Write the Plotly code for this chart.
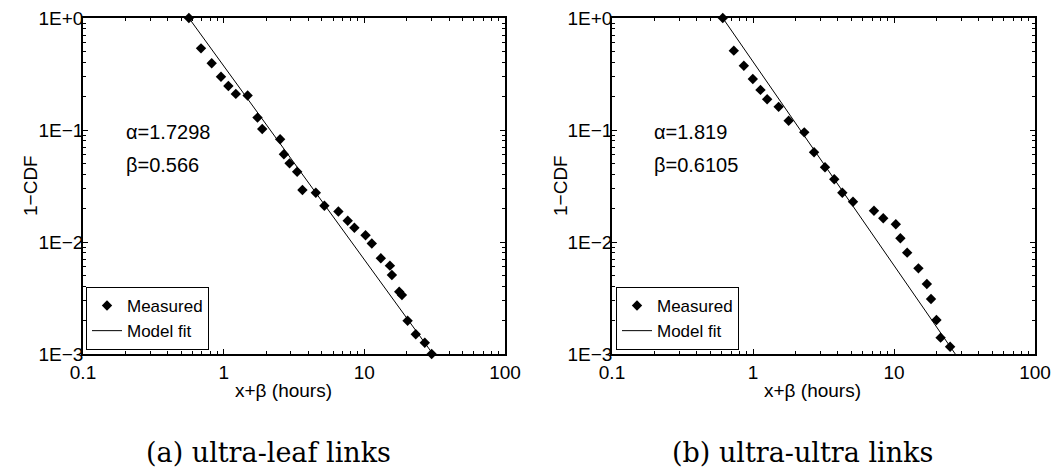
import plotly.graph_objects as go

# ---------------- data ----------------
alpha_a = 1.7298
beta_a = 0.566
meas_x_a = [0.566, 0.69, 0.822, 0.957, 1.08, 1.22, 1.48, 1.74, 1.88, 2.52, 2.68, 2.94, 3.33,
            3.63, 4.52, 5.2, 6.54, 7.62, 8.5, 10.2, 11.3, 13.1, 15.2, 15.7, 17.7, 18.5,
            20.3, 23.2, 26.9, 30.1]
meas_y_a = [1.0, 0.536, 0.394, 0.299, 0.247, 0.21, 0.203, 0.129, 0.102, 0.0826, 0.0607, 0.0504, 0.0424,
            0.0291, 0.0275, 0.0211, 0.0187, 0.0155, 0.0134, 0.0115, 0.0097, 0.00715, 0.00615, 0.00507,
            0.0036, 0.00336, 0.00198, 0.0015, 0.00126, 0.001]
fit_x_a = [0.566, 30.7]
fit_y_a = [1.0, 0.001]

alpha_b = 1.819
beta_b = 0.6105
meas_x_b = [0.6105, 0.731, 0.861, 0.997, 1.13, 1.26, 1.52, 1.79, 2.31, 2.71, 3.24, 3.77,
            4.30, 5.12, 7.21, 8.39, 10.3, 11.1, 12.4, 14.9, 17.1, 18.3, 20.0, 21.4, 25.0]
meas_y_b = [1.0, 0.511, 0.375, 0.285, 0.228, 0.188, 0.161, 0.121, 0.0953, 0.0632, 0.0465, 0.0363,
            0.0275, 0.0229, 0.019, 0.0163, 0.0144, 0.0108, 0.00803, 0.00582, 0.00422, 0.0031,
            0.00201, 0.0014, 0.00116]
fit_x_b = [0.6105, 27.2]
fit_y_b = [1.0, 0.001]

x_tickvals = [0.1, 1, 10, 100]
x_ticktext = ["0.1", "1", "10", "100"]
y_tickvals = [1, 0.1, 0.01, 0.001]
y_ticktext = ["1E+0", "1E\u22121", "1E\u22122", "1E\u22123"]

captions = ["(a) ultra-leaf links", "(b) ultra-ultra links"]
x_title = "x+\u03b2 (hours)"
y_title = "1\u2212CDF"

# minor tick positions (2..9 in each decade)
x_minor = [m * 10.0 ** e for e in (-1, 0, 1) for m in range(2, 10)]
y_minor = [m * 10.0 ** e for e in (-3, -2, -1) for m in range(2, 10)]

# ---------------- figure ----------------
W, H = 1052, 473
FONT = "Liberation Sans, Arial, Helvetica, sans-serif"
FS = 19

fig = go.Figure()

def add_panel(mx, my, fx, fy, xa, ya, leg):
    fig.add_trace(go.Scatter(x=mx, y=my, mode="markers", name="Measured",
                             marker=dict(symbol="diamond", size=8, color="black"),
                             cliponaxis=False, xaxis=xa, yaxis=ya, legend=leg))
    fig.add_trace(go.Scatter(x=fx, y=fy, mode="lines", name="Model fit",
                             line=dict(color="black", width=1),
                             xaxis=xa, yaxis=ya, legend=leg))

add_panel(meas_x_a, meas_y_a, fit_x_a, fit_y_a, "x", "y", "legend")
add_panel(meas_x_b, meas_y_b, fit_x_b, fit_y_b, "x2", "y2", "legend2")

def px(x):
    return x / W

def py(y):
    return (H - y) / H

axis_common = dict(
    type="log", showline=True, linecolor="black", linewidth=1.5, mirror="allticks",
    ticks="inside", ticklen=5, tickwidth=1, tickcolor="black", showgrid=False, zeroline=False,
    automargin=False, tickmode="array",
    tickfont=dict(family=FONT, size=FS, color="black"),
)

def minor(vals):
    return dict(ticks="inside", ticklen=3, tickwidth=1, tickcolor="black", showgrid=False,
                tickmode="array", tickvals=vals)

ydom = [py(354), py(18)]
fig.update_layout(
    width=W, height=H, margin=dict(l=0, r=0, t=0, b=0, autoexpand=False),
    paper_bgcolor="white", plot_bgcolor="white",
    font=dict(family=FONT, size=FS, color="black"),
    xaxis=dict(axis_common, domain=[px(83), px(505)], range=[-1, 2],
               tickvals=x_tickvals, ticktext=x_ticktext, anchor="y", minor=minor(x_minor),
               ticklabelstandoff=0),
    yaxis=dict(axis_common, domain=ydom, range=[-3, 0],
               tickvals=y_tickvals, ticktext=y_ticktext, anchor="x", minor=minor(y_minor),
               ticklabelstandoff=-6),
    xaxis2=dict(axis_common, domain=[px(612), px(1035)], range=[-1, 2],
                tickvals=x_tickvals, ticktext=x_ticktext, anchor="y2", minor=minor(x_minor),
                ticklabelstandoff=0),
    yaxis2=dict(axis_common, domain=ydom, range=[-3, 0],
                tickvals=y_tickvals, ticktext=y_ticktext, anchor="x2", minor=minor(y_minor),
                ticklabelstandoff=-6),
    legend=dict(x=px(86), y=py(350), xanchor="left", yanchor="bottom",
                bordercolor="black", borderwidth=1, bgcolor="white",
                font=dict(family=FONT, size=17), tracegroupgap=0, itemwidth=30),
    legend2=dict(x=px(616), y=py(350), xanchor="left", yanchor="bottom",
                 bordercolor="black", borderwidth=1, bgcolor="white",
                 font=dict(family=FONT, size=17), tracegroupgap=0, itemwidth=30),
    showlegend=True,
)

ann = []
for cx, txt in [(268, captions[0]), (802, captions[1])]:
    ann.append(dict(x=px(cx), y=py(452), xref="paper", yref="paper", text=txt, showarrow=False,
                    xanchor="center", yanchor="middle",
                    font=dict(family="DejaVu Serif, serif", size=27, color="black")))
for cx in [283, 812]:
    ann.append(dict(x=px(cx), y=py(390), xref="paper", yref="paper", text=x_title, showarrow=False,
                    xanchor="center", yanchor="middle", font=dict(family=FONT, size=FS, color="black")))
for cx in [30, 560]:
    ann.append(dict(x=px(cx), y=py(186), xref="paper", yref="paper", text=y_title, showarrow=False,
                    textangle=-90, xanchor="center", yanchor="middle",
                    font=dict(family=FONT, size=FS, color="black")))
for lx, a, b in [(124, alpha_a, beta_a), (652, alpha_b, beta_b)]:
    ann.append(dict(x=px(lx), y=py(132), xref="paper", yref="paper", text=f"\u03b1={a}",
                    showarrow=False, xanchor="left", yanchor="middle",
                    font=dict(family=FONT, size=20, color="black")))
    ann.append(dict(x=px(lx), y=py(165), xref="paper", yref="paper", text=f"\u03b2={b}",
                    showarrow=False, xanchor="left", yanchor="middle",
                    font=dict(family=FONT, size=20, color="black")))
fig.update_layout(annotations=ann)

fig.write_html("out.html")
